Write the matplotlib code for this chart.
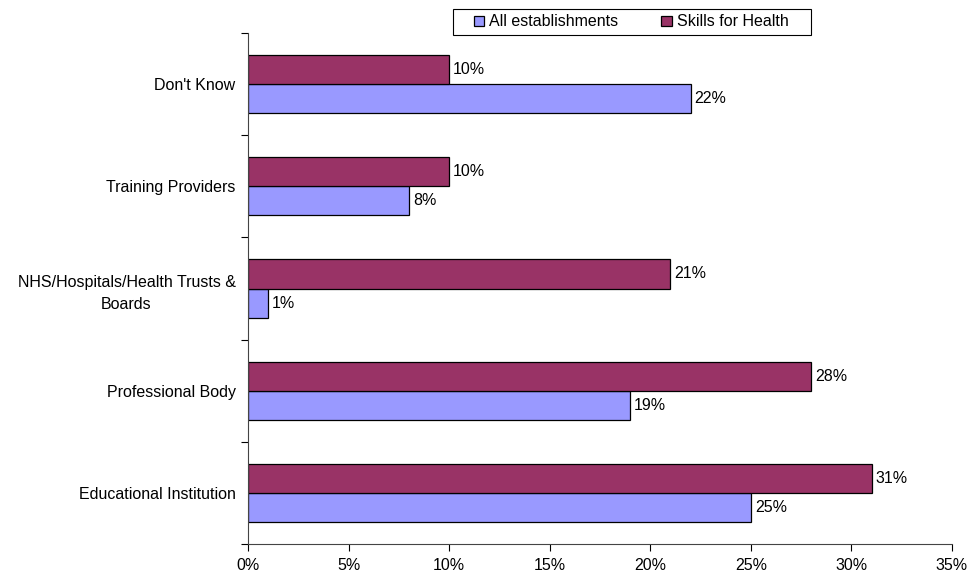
import numpy as np
import matplotlib
matplotlib.use("Agg")
import matplotlib.pyplot as plt
from matplotlib.patches import Rectangle
from matplotlib.ticker import FuncFormatter, FixedLocator

plt.rcParams['font.family'] = ['Liberation Sans', 'DejaVu Sans']

# === Data ===
categories = ["Educational Institution", "Professional Body",
              "NHS/Hospitals/Health Trusts &\nBoards", "Training Providers", "Don't Know"]
all_establishments = [25, 19, 1, 8, 22]
skills_for_health = [31, 28, 21, 10, 10]

blue = '#9999ff'
maroon = '#993366'
fs = 11.5
W, H = 972, 578

fig = plt.figure(figsize=(9.72, 5.78), dpi=100)
ax = fig.add_axes([248 / W, 1 - 544 / H, (952 - 248) / W, (544 - 33) / H])

y = np.arange(len(categories))
h = 0.285
ax.barh(y - h / 2, all_establishments, height=h, color=blue, edgecolor='black', linewidth=0.9,
        label='All establishments')
ax.barh(y + h / 2, skills_for_health, height=h, color=maroon, edgecolor='black', linewidth=0.9,
        label='Skills for Health')

# value labels to the right of each bar
for yi, v in zip(y, all_establishments):
    ax.text(v + 0.2, yi - h / 2, f'{v}%', va='center', ha='left', fontsize=fs)
for yi, v in zip(y, skills_for_health):
    ax.text(v + 0.2, yi + h / 2, f'{v}%', va='center', ha='left', fontsize=fs)

ax.set_xlim(0, 35)
ax.set_ylim(-0.5, len(categories) - 0.5)
ax.set_xticks(np.arange(0, 36, 5))
ax.xaxis.set_major_formatter(FuncFormatter(lambda x, _: f'{x:.0f}%'))

# category labels centred, tick marks on the boundaries
ax.yaxis.set_major_locator(FixedLocator(np.arange(-0.5, len(categories), 1)))
ax.yaxis.set_major_formatter(FuncFormatter(lambda v, _: ''))
ax.set_yticks(y, minor=True)
ax.set_yticklabels(categories, minor=True, fontsize=fs, ha='right',
                   multialignment='center', linespacing=1.6)
ax.tick_params(axis='y', which='minor', length=0, pad=9)
ax.tick_params(axis='y', which='major', length=5, direction='out')
ax.tick_params(axis='x', length=5, direction='out', labelsize=fs, pad=5)

for s in ['top', 'right']:
    ax.spines[s].set_visible(False)
for s in ['left', 'bottom']:
    ax.spines[s].set_linewidth(0.8)
    ax.spines[s].set_color('#444444')

# legend with a separately drawn box
leg = fig.legend(loc='center left', bbox_to_anchor=(474 / W, 1 - 22 / H), ncol=2,
                 fontsize=fs, frameon=False,
                 handlelength=0.65, handleheight=0.65, handletextpad=0.3,
                 columnspacing=2.7, borderpad=0, borderaxespad=0)
fig.add_artist(Rectangle((453 / W, 1 - 35 / H), (811 - 453) / W, 26 / H,
                         transform=fig.transFigure, fill=False,
                         edgecolor='black', linewidth=0.8))

fig.savefig('out.png', dpi=100)
